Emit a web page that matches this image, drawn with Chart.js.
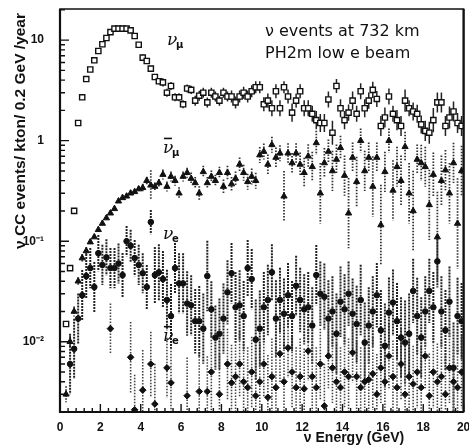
<!DOCTYPE html>
<html>
<head>
<meta charset="utf-8">
<script src="https://cdn.jsdelivr.net/npm/chart.js@4.4.1/dist/chart.umd.min.js"></script>
<style>
  html, body { margin: 0; padding: 0; background: #fff; }
</style>
</head>
<body>
<canvas id="chart" width="469" height="447"></canvas>
<script>
// bin centres (GeV), 0.2 GeV bins
const energy = [
  0.1, 0.3, 0.5, 0.7, 0.9, 1.1, 1.3, 1.5, 1.7, 1.9, 2.1, 2.3, 2.5, 2.7, 2.9, 3.1, 3.3, 3.5, 3.7, 3.9,
  4.1, 4.3, 4.5, 4.7, 4.9, 5.1, 5.3, 5.5, 5.7, 5.9, 6.1, 6.3, 6.5, 6.7, 6.9, 7.1, 7.3, 7.5, 7.7, 7.9,
  8.1, 8.3, 8.5, 8.7, 8.9, 9.1, 9.3, 9.5, 9.7, 9.9, 10.1, 10.3, 10.5, 10.7, 10.9, 11.1, 11.3, 11.5, 11.7, 11.9,
  12.1, 12.3, 12.5, 12.7, 12.9, 13.1, 13.3, 13.5, 13.7, 13.9, 14.1, 14.3, 14.5, 14.7, 14.9, 15.1, 15.3, 15.5, 15.7, 15.9,
  16.1, 16.3, 16.5, 16.7, 16.9, 17.1, 17.3, 17.5, 17.7, 17.9, 18.1, 18.3, 18.5, 18.7, 18.9, 19.1, 19.3, 19.5, 19.7, 19.9
];

// nu_mu CC events (open squares)
const numu = [
  null, 0.015, 0.054, 0.2, 1.5, 2.7, 4.1, 5.1, 6.3, 7.8, 9.1, 10.5, 12, 13, 13, 13, 13, 12.5, 11, 9,
  6.7, 6.2, 5.2, 4.3, 3.9, 3.8, 3.0, 3.5, 2.7, 2.7, 2.3, 3.3, 3.2, 2.5, 2.8, 3.0, 2.4, 3.0, 2.75, 2.5,
  3.0, 2.75, 2.75, 2.4, 2.75, 3.0, 2.75, 3.1, 3.4, 3.4, 2.3, 2.5, 2.1, 3.1, 2.1, 3.4, 2.75, 1.9, 2.5, 3.1,
  2.1, 2.1, 1.85, 1.6, 1.5, 1.5, 2.57, 1.2, 3.5, 2.1, 1.6, 1.9, 2.5, 1.85, 3.1, 2.1, 2.5, 3.2, 2.6, 1.4,
  1.7, 2.75, 1.85, 1.6, 1.4, 2.5, 2.1, 1.95, 1.85, 1.45, 1.25, 1.2, 1.6, 2.4, 2.4, 1.4, 1.7, 1.95, 1.5, 1.4
];
// half-width of error bar, in decades
const numuErr = [
  0, 0.02, 0.02, 0.02, 0.02, 0.02, 0.02, 0.02, 0.02, 0.02, 0.02, 0.02, 0.02, 0.02, 0.02, 0.02, 0.02, 0.02, 0.02, 0.02,
  0.03, 0.03, 0.03, 0.03, 0.03, 0.04, 0.04, 0.04, 0.04, 0.04, 0.04, 0.04, 0.04, 0.05, 0.05, 0.05, 0.05, 0.05, 0.05, 0.05,
  0.05, 0.05, 0.06, 0.06, 0.06, 0.06, 0.06, 0.06, 0.06, 0.06, 0.07, 0.07, 0.08, 0.07, 0.08, 0.06, 0.07, 0.09, 0.07, 0.07,
  0.08, 0.08, 0.08, 0.09, 0.09, 0.09, 0.08, 0.12, 0.07, 0.09, 0.09, 0.08, 0.09, 0.08, 0.08, 0.09, 0.08, 0.08, 0.08, 0.1,
  0.1, 0.08, 0.08, 0.1, 0.1, 0.11, 0.08, 0.09, 0.09, 0.09, 0.1, 0.11, 0.12, 0.1, 0.1, 0.1, 0.11, 0.1, 0.1, 0.1
];

// anti-nu_mu (filled triangles)
const anumu = [
  null, 0.003, 0.01, 0.02, 0.04, 0.068, 0.08, 0.098, 0.11, 0.13, 0.15, 0.17, 0.19, 0.21, 0.25, 0.27, 0.28, 0.3, 0.31, 0.33,
  0.34, 0.4, 0.36, 0.35, 0.38, 0.46, 0.35, 0.44, 0.4, 0.30, 0.44, 0.48, 0.42, 0.38, 0.30, 0.49, 0.38, 0.44, 0.4, 0.48,
  0.35, 0.48, 0.37, 0.42, 0.58, 0.48, 0.39, 0.44, 0.4, 0.72, 0.78, 0.58, 0.91, 0.68, 0.75, 0.28, 0.75, 0.6, 0.75, 0.58,
  0.48, 0.7, 0.55, 0.95, 0.3, 0.6, 0.78, 0.5, 0.65, 0.85, 0.45, 0.19, 0.68, 0.39, 1.0, 0.5, 0.68, 0.35, 0.68, 0.145,
  0.49, 1.0, 0.32, 0.55, 0.4, 0.87, 0.3, 0.2, 0.65, 0.6, 0.55, 0.23, 0.46, 0.11, 0.4, 0.51, 0.3, 0.6, 0.15, 0.5
];
const anumuErr = [
  0, 0.08, 0.06, 0.05, 0.04, 0.04, 0.04, 0.03, 0.03, 0.03, 0.03, 0.03, 0.03, 0.03, 0.03, 0.03, 0.03, 0.03, 0.03, 0.03,
  0.04, 0.04, 0.15, 0.04, 0.04, 0.05, 0.05, 0.05, 0.05, 0.06, 0.05, 0.05, 0.06, 0.06, 0.07, 0.06, 0.06, 0.06, 0.06, 0.06,
  0.07, 0.07, 0.07, 0.07, 0.07, 0.08, 0.08, 0.08, 0.08, 0.08, 0.08, 0.1, 0.08, 0.1, 0.08, 0.25, 0.1, 0.1, 0.1, 0.12,
  0.15, 0.12, 0.15, 0.12, 0.3, 0.15, 0.12, 0.2, 0.15, 0.12, 0.2, 0.35, 0.15, 0.25, 0.12, 0.2, 0.15, 0.3, 0.15, 0.4,
  0.2, 0.12, 0.3, 0.2, 0.25, 0.15, 0.3, 0.4, 0.15, 0.18, 0.2, 0.35, 0.22, 0.45, 0.25, 0.2, 0.3, 0.2, 0.45, 0.25
];

// nu_e (filled circles)
const nue = [
  null, null, 0.006, 0.0085, 0.017, 0.029, 0.045, 0.054, 0.035, 0.076, 0.058, 0.069, 0.054, 0.054, 0.06, 0.046, 0.1, 0.09, 0.068, 0.058,
  0.048, 0.035, 0.155, 0.046, 0.049, 0.042, 0.026, 0.018, 0.054, 0.038, 0.038, 0.024, 0.023, 0.016, 0.016, 0.0135, 0.045, 0.021, 0.011, 0.012,
  0.017, 0.031, 0.048, 0.022, 0.023, 0.018, 0.054, 0.042, 0.0105, 0.0135, 0.022, 0.026, 0.049, 0.017, 0.026, 0.019, 0.029, 0.018, 0.036, 0.026,
  0.021, 0.022, 0.0145, 0.046, 0.03, 0.028, 0.017, 0.02, 0.012, 0.025, 0.021, 0.03, 0.019, 0.015, 0.026, 0.0098, 0.0145, 0.02, 0.029, 0.013,
  0.0091, 0.0195, 0.0245, 0.016, 0.011, 0.0098, 0.012, 0.032, 0.018, 0.011, 0.02, 0.032, 0.022, 0.063, 0.02, 0.013, 0.025, 0.0055, 0.018, 0.016
];
const nueErr = [
  0, 0, 0.3, 0.3, 0.25, 0.25, 0.22, 0.2, 0.25, 0.18, 0.2, 0.18, 0.2, 0.2, 0.2, 0.22, 0.15, 0.16, 0.18, 0.2,
  0.2, 0.22, 0.12, 0.28, 0.28, 0.28, 0.3, 0.32, 0.25, 0.3, 0.3, 0.32, 0.3, 0.32, 0.35, 0.35, 0.35, 0.28, 0.32, 0.35,
  0.35, 0.32, 0.3, 0.35, 0.35, 0.35, 0.28, 0.3, 0.4, 0.38, 0.35, 0.35, 0.28, 0.38, 0.32, 0.35, 0.32, 0.35, 0.3, 0.32,
  0.35, 0.35, 0.38, 0.3, 0.32, 0.33, 0.38, 0.35, 0.4, 0.35, 0.35, 0.32, 0.35, 0.38, 0.35, 0.4, 0.38, 0.35, 0.32, 0.4,
  0.42, 0.35, 0.33, 0.38, 0.4, 0.42, 0.4, 0.32, 0.38, 0.4, 0.35, 0.32, 0.35, 0.26, 0.35, 0.4, 0.35, 0.45, 0.38, 0.38
];

// anti-nu_e (filled diamonds)
const anue = [
  null, null, null, null, null, null, null, null, null, null, null, null, 0.0135, null, null, null, null, 0.007, 0.0021, null,
  0.0033, null, 0.006, 0.0024, null, null, 0.0055, 0.0039, null, null, null, 0.0029, null, null, 0.0032, null, 0.0032, 0.005, null, 0.003,
  null, 0.006, 0.0039, 0.0045, 0.006, 0.004, 0.0035, 0.005, 0.0029, 0.004, 0.006, 0.0028, 0.0045, 0.0035, 0.0076, 0.004, 0.0087, 0.005, 0.0035, 0.0045,
  0.0034, 0.0081, 0.0045, 0.0035, 0.006, 0.0023, 0.0072, 0.0055, 0.004, 0.0035, 0.005, 0.0045, 0.0078, 0.0045, 0.0035, 0.004, 0.0042, 0.0048, 0.003, 0.0055,
  0.004, 0.0072, 0.0045, 0.0035, 0.006, 0.003, 0.0045, 0.0038, 0.005, 0.0035, 0.0072, 0.0029, 0.005, 0.004, 0.0045, 0.003, 0.0055, 0.004, 0.0035, 0.005
];
const anueErr = [
  0, 0, 0, 0, 0, 0, 0, 0, 0, 0, 0, 0, 0.25, 0, 0, 0, 0, 0.35, 0.35, 0,
  0.4, 0, 0.32, 0.4, 0, 0, 0.3, 0.35, 0, 0, 0, 0.38, 0, 0, 0.38, 0, 0.35, 0.38, 0, 0.4,
  0, 0.35, 0.38, 0.35, 0.32, 0.38, 0.4, 0.35, 0.38, 0.38, 0.32, 0.42, 0.38, 0.4, 0.3, 0.38, 0.3, 0.35, 0.4, 0.38,
  0.4, 0.3, 0.38, 0.4, 0.35, 0.42, 0.32, 0.35, 0.38, 0.4, 0.35, 0.38, 0.3, 0.35, 0.4, 0.38, 0.38, 0.36, 0.4, 0.35,
  0.38, 0.32, 0.36, 0.4, 0.35, 0.42, 0.36, 0.38, 0.36, 0.4, 0.32, 0.42, 0.36, 0.38, 0.35, 0.4, 0.35, 0.38, 0.4, 0.36
];

// axis ticks
const xMajor = [0, 2, 4, 6, 8, 10, 12, 14, 16, 18, 20];
const xLabels = ['0', '2', '4', '6', '8', '10', '12', '14', '16', '18', '20'];
const yMajor = [0.01, 0.1, 1, 10];
const yLabels = ['10\u207B\u00B2', '10\u207B\u00B9', '1', '10'];

function points(vals, errs) {
  const out = [];
  energy.forEach((e, i) => {
    if (vals[i] != null) out.push({ x: e, y: vals[i], err: errs[i] });
  });
  return out;
}

const errorBars = {
  id: 'errorBars',
  beforeDatasetsDraw(chart) {
    const { ctx, chartArea: a, scales: { y } } = chart;
    ctx.save();
    ctx.beginPath();
    ctx.rect(a.left, a.top, a.right - a.left, a.bottom - a.top);
    ctx.clip();
    chart.data.datasets.forEach((ds, di) => {
      const meta = chart.getDatasetMeta(di);
      ctx.strokeStyle = ds.errColor;
      ctx.lineWidth = ds.errWidth;
      ctx.setLineDash(ds.errDash);
      meta.data.forEach((pt, i) => {
        const d = ds.data[i];
        if (!d.err) return;
        const f = Math.pow(10, d.err);
        ctx.beginPath();
        ctx.moveTo(pt.x, y.getPixelForValue(d.y * f));
        ctx.lineTo(pt.x, y.getPixelForValue(d.y / f));
        ctx.stroke();
      });
    });
    ctx.restore();
  }
};

const frame = {
  id: 'frame',
  afterDraw(chart) {
    const { ctx, chartArea: a, scales: { x, y } } = chart;
    ctx.save();
    ctx.strokeStyle = '#111';
    ctx.lineWidth = 1.5;
    ctx.strokeRect(a.left, a.top, a.right - a.left, a.bottom - a.top);
    ctx.lineWidth = 2.2;
    ctx.beginPath();
    ctx.moveTo(a.left, a.top); ctx.lineTo(a.left, a.bottom); ctx.lineTo(a.right, a.bottom);
    ctx.moveTo(a.right, a.top); ctx.lineTo(a.right, a.bottom);
    ctx.stroke();
    // y ticks, pointing inward
    ctx.lineWidth = 1.4;
    ctx.beginPath();
    for (let dec = 0.001; dec < 100; dec *= 10) {
      for (let m = 1; m < 10; m++) {
        const py = y.getPixelForValue(dec * m);
        if (py < a.top || py > a.bottom) continue;
        const len = m === 1 ? 9 : 5;
        ctx.moveTo(a.left, py); ctx.lineTo(a.left + len, py);
      }
    }
    // x ticks
    for (let k = 0; k <= 50; k++) {
      const px = x.getPixelForValue(k * 0.4);
      const len = k % 5 === 0 ? 8 : 4;
      ctx.moveTo(px, a.bottom); ctx.lineTo(px, a.bottom - len);
    }
    ctx.stroke();

    // series labels
    ctx.fillStyle = '#111';
    function nuLabel(e, v, sub, bar) {
      const px = x.getPixelForValue(e), py = y.getPixelForValue(v);
      ctx.font = 'italic 17px "DejaVu Serif"';
      ctx.textBaseline = 'alphabetic';
      ctx.fillText('\u03BD', px, py);
      ctx.font = 'bold 10px "DejaVu Sans"';
      ctx.fillText(sub, px + 9, py + 3);
      if (bar) {
        ctx.fillRect(px + 1, py - 15, 8, 1.6);
      }
    }
    nuLabel(5.3, 9, '\u03BC', false);
    nuLabel(5.1, 0.76, '\u03BC', true);
    nuLabel(5.1, 0.105, 'e', false);
    nuLabel(5.1, 0.0102, 'e', true);

    // annotation
    ctx.font = '16px "DejaVu Sans"';
    ctx.fillText('\u03BD events at 732 km', 265, 36);
    ctx.fillText('PH2m low e beam', 265, 58);

    // axis titles
    ctx.font = 'bold 14px "Liberation Sans"';
    ctx.textAlign = 'center';
    ctx.fillText('\u03BD Energy (GeV)', 354, 442);
    ctx.translate(25, 131);
    ctx.rotate(-Math.PI / 2);
    ctx.font = 'bold 15.5px "Liberation Sans"';
    ctx.fillText('\u03BD CC events/ kton/ 0.2 GeV /year', 0, 0);
    ctx.restore();
  }
};

new Chart(document.getElementById('chart'), {
  type: 'scatter',
  data: {
    datasets: [
      {
        label: 'numu', data: points(numu, numuErr),
        pointStyle: 'rect', pointRadius: 3.7, backgroundColor: '#fff', borderColor: '#111', borderWidth: 1.4,
        errColor: '#222', errWidth: 1.5, errDash: []
      },
      {
        label: 'anumu', data: points(anumu, anumuErr),
        pointStyle: 'triangle', pointRadius: 3.6, backgroundColor: '#111', borderColor: '#111', borderWidth: 1,
        errColor: '#333', errWidth: 1.8, errDash: [1.5, 1.5]
      },
      {
        label: 'nue', data: points(nue, nueErr),
        pointStyle: 'circle', pointRadius: 2.8, backgroundColor: '#111', borderColor: '#111', borderWidth: 1,
        errColor: '#222', errWidth: 2, errDash: [2, 1]
      },
      {
        label: 'anue', data: points(anue, anueErr),
        pointStyle: 'rectRot', pointRadius: 3.3, backgroundColor: '#111', borderColor: '#111', borderWidth: 1,
        errColor: '#444', errWidth: 1.6, errDash: [1.5, 1.5]
      }
    ]
  },
  options: {
    responsive: false,
    animation: false,
    layout: { padding: { left: 0, right: 3, top: 9, bottom: 0 } },
    plugins: { legend: { display: false }, tooltip: { enabled: false } },
    scales: {
      x: {
        type: 'linear', min: 0, max: 20,
        grid: { display: false }, border: { display: false },
        afterBuildTicks: s => { s.ticks = xMajor.map(v => ({ value: v })); },
        afterFit: s => { s.height = 35; s.paddingLeft = 0; s.paddingRight = 0; },
        ticks: {
          autoSkip: false, maxRotation: 0, padding: 0, color: '#111',
          font: { family: 'Liberation Sans', size: 12, weight: 'bold' },
          callback: (v, i) => xLabels[i]
        }
      },
      y: {
        type: 'logarithmic', min: 0.002, max: 20.4,
        grid: { display: false }, border: { display: false },
        afterBuildTicks: s => { s.ticks = yMajor.map(v => ({ value: v })); },
        afterFit: s => { s.width = 60; s.paddingTop = 0; s.paddingBottom = 0; },
        ticks: {
          padding: 8, color: '#111',
          font: { family: 'Liberation Sans', size: 12, weight: 'bold' },
          callback: (v, i) => yLabels[i]
        }
      }
    }
  },
  plugins: [errorBars, frame]
});
</script>
</body>
</html>
